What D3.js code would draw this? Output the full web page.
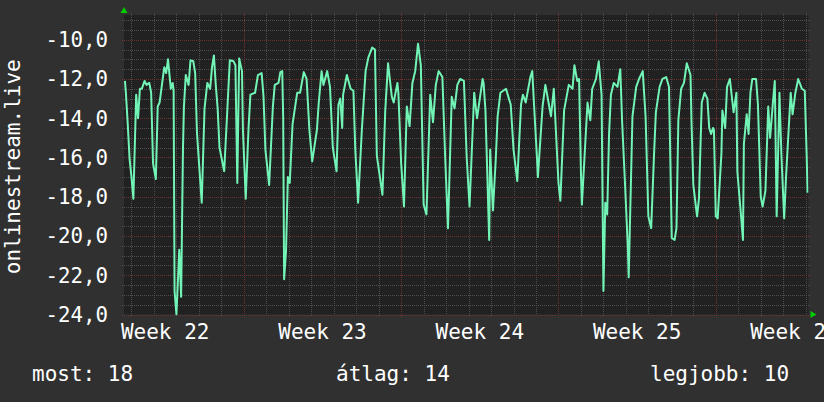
<!DOCTYPE html>
<html>
<head>
<meta charset="utf-8">
<script src="https://cdn.jsdelivr.net/npm/d3@7"></script>
<style>
  html, body { margin: 0; padding: 0; background: #303030; }
  svg { display: block; }
  text { font-family: "DejaVu Sans Mono", monospace; fill: #ffffff; }
</style>
</head>
<body>
<div id="chart"></div>
<script>
// Hours since Wed 2023-05-31 00:00 and the value read at that time
const hours = [
  -7, -6, -4, -2, 0, 2, 5, 7, 9, 11, 14, 16, 19, 21, 23, 26, 28, 30, 35, 37, 39, 42, 44, 45, 46, 48,
  51, 53, 55, 56, 58, 61, 63, 66, 68, 70, 75, 78, 81, 84, 86, 88, 90, 92, 94, 99, 102, 105, 109, 111,
  113, 115, 118, 119, 122, 125, 127, 132, 135, 139, 141, 143, 147, 151, 153, 157, 159, 161, 162, 163,
  165, 167, 169, 172, 177, 180, 184, 187, 190, 193, 198, 200, 203, 205, 209, 212, 215, 219, 221, 223,
  225, 226, 230, 234, 237, 239, 242, 246, 250, 253, 257, 260, 262, 268, 271, 274, 278, 280, 284, 285,
  288, 291, 294, 297, 300, 303, 306, 309, 312, 315, 319, 322, 325, 328, 332, 335, 338, 342, 345, 348,
  351, 355, 358, 361, 366, 369, 375, 376, 378, 382, 383, 386, 389, 391, 394, 400, 403, 405, 408, 412,
  416, 418, 421, 426, 428, 430, 433, 434, 439, 442, 448, 451, 453, 456, 458, 462, 467, 471, 473, 476,
  478, 480, 481, 487, 490, 492, 496, 499, 502, 504, 506, 508, 510, 512, 515, 519, 522, 524, 527, 530,
  531, 535, 539, 542, 546, 549, 552, 555, 558, 560, 564, 567, 571, 574, 577, 580, 582, 584, 587, 590,
  593, 597, 598, 600, 604, 606, 609, 612, 615, 617, 619, 621, 622, 624, 626, 630, 631, 634, 636, 639,
  643, 646, 647, 651, 653, 654, 657, 659, 661, 663, 667, 669, 672, 674, 677, 680, 682, 685, 687, 689,
  692, 694, 697, 699, 702, 704, 706, 709, 712, 716, 719, 721, 722
];
const values = [
  -12.1, -12.7, -14.3, -16.1, -17.0, -18.1, -12.8, -14.0, -12.5, -12.5, -12.1, -12.3, -12.2, -12.7, -16.3, -17.1, -13.4, -13.2, -11.4, -11.7, -11.0, -12.5, -12.2, -12.6, -22.8, -24.0,
  -20.7, -23.1, -15.5, -13.4, -11.8, -12.3, -11.05, -11.1, -11.7, -14.8, -18.3, -13.5, -12.2, -12.5, -11.4, -10.8, -12.3, -13.5, -15.5, -16.7, -13.9, -11.05, -11.1, -11.3,
  -17.3, -10.95, -11.6, -14.6, -18.1, -14.5, -12.8, -12.7, -11.8, -11.7, -12.9, -15.6, -17.4, -13.4, -12.3, -12.2, -11.65, -11.6, -14.0, -22.2,
  -20.8, -17.0, -17.3, -14.3, -12.7, -12.7, -11.65, -12.0, -14.6, -16.2, -14.6, -13.2, -11.6, -12.3, -11.6, -12.4, -15.5, -16.7, -13.3, -13.0,
  -14.5, -12.8, -11.8, -12.5, -12.6, -15.6, -18.3, -14.6, -11.6, -10.9, -10.4, -10.5, -15.9, -17.9, -13.6, -11.2, -12.9, -13.2, -12.2, -12.7,
  -16.3, -18.5, -13.4, -14.4, -12.2, -11.6, -10.2, -11.3, -18.4, -18.9, -12.8, -14.2, -12.3, -11.6, -11.9, -16.0, -19.6, -12.9, -13.5, -12.3,
  -12.0, -12.1, -16.0, -18.5, -12.7, -14.0, -12.0, -12.2, -13.6, -20.2, -15.6, -18.7, -16.1, -13.9, -12.7, -12.5, -13.0, -13.3, -15.6, -17.2,
  -13.3, -12.8, -13.2, -11.9, -11.6, -13.4, -16.0, -17.0, -13.4, -12.3, -13.9, -12.5, -14.4, -17.3, -18.2, -13.6, -12.3, -12.5, -11.3, -12.1,
  -12.0, -16.8, -18.4, -13.2, -14.1, -12.5, -12.0, -11.1, -12.8, -22.8, -18.3, -18.9, -14.8, -12.8, -12.2, -12.4, -11.5, -14.2, -17.3, -20.5,
  -22.1, -13.9, -12.4, -12.0, -11.6, -13.9, -19.0, -19.6, -15.9, -13.7, -12.4, -12.0, -11.9, -12.4, -20.1, -20.2, -19.6, -14.1, -12.5, -12.2,
  -11.2, -11.8, -14.1, -17.4, -19.0, -18.1, -13.2, -12.7, -13.0, -14.5, -14.8, -14.5, -14.6, -19.0, -19.1, -15.8, -13.6, -14.5, -12.4, -12.0,
  -13.7, -12.7, -16.7, -19.0, -20.2, -15.3, -13.8, -14.8, -12.7, -12.0, -12.0, -13.3, -18.0, -18.5, -17.7, -13.4, -15.0, -13.2, -12.1, -19.0,
  -12.7, -15.8, -19.1, -17.0, -14.4, -12.7, -13.8, -12.7, -12.0, -12.5, -12.6, -15.8, -17.8
];

const yTicks = [-24, -22, -20, -18, -16, -14, -12, -10];
const axisTitle = 'onlinestream.live';
const legendNames = ['most', 'átlag', 'legjobb'];
const legendValues = [18, 14, 10];

const W = 824, H = 402;
const plot = {left: 124, right: 808.5, top: 15, bottom: 314.5};
const t0 = new Date(2023, 4, 31, 0, 0);

const x = d3.scaleTime()
  .domain([d3.timeHour.offset(t0, -7.7), d3.timeHour.offset(t0, 30.16 * 24)])
  .range([plot.left, plot.right]);
const y = d3.scaleLinear()
  .domain([-24, -8.74])
  .range([plot.bottom, plot.top]);

const svg = d3.select('#chart').append('svg')
  .attr('width', W).attr('height', H);

svg.append('rect').attr('width', W).attr('height', H).attr('fill', '#303030');
svg.append('rect')
  .attr('x', plot.left).attr('y', plot.top)
  .attr('width', plot.right - plot.left).attr('height', plot.bottom - plot.top)
  .attr('fill', '#212121');

const grid = svg.append('g');
const minorColor = '#4e4e4e', majorColor = '#6e3434';

// horizontal grid, minor every 0.5, major every 2
const yMinor = d3.range(-24, -8.74, 0.5).filter(v => v % 2 !== 0);
grid.selectAll('.hmin').data(yMinor).join('line')
  .attr('x1', plot.left - 2).attr('x2', plot.right + 2)
  .attr('y1', d => Math.round(y(d)) + 0.5).attr('y2', d => Math.round(y(d)) + 0.5)
  .attr('stroke', minorColor).attr('stroke-dasharray', '1,1');

// vertical grid, minor each day, major each Monday
const days = d3.timeDay.range(x.domain()[0], x.domain()[1]);
const mondays = d3.timeMonday.range(x.domain()[0], x.domain()[1]);
grid.selectAll('.vmin').data(days.filter(d => d.getDay() !== 1)).join('line')
  .attr('x1', d => Math.round(x(d)) + 0.5).attr('x2', d => Math.round(x(d)) + 0.5)
  .attr('y1', plot.top - 2).attr('y2', plot.bottom + 2)
  .attr('stroke', minorColor).attr('stroke-dasharray', '1,1');

grid.selectAll('.hmaj').data(yTicks).join('line')
  .attr('x1', plot.left - 2).attr('x2', plot.right + 2)
  .attr('y1', d => Math.round(y(d)) + 0.5).attr('y2', d => Math.round(y(d)) + 0.5)
  .attr('stroke', majorColor).attr('stroke-dasharray', '1,1');
grid.selectAll('.vmaj').data(mondays).join('line')
  .attr('x1', d => Math.round(x(d)) + 0.5).attr('x2', d => Math.round(x(d)) + 0.5)
  .attr('y1', plot.top - 2).attr('y2', plot.bottom + 3)
  .attr('stroke', majorColor).attr('stroke-dasharray', '1,1');

// the series
svg.append('clipPath').attr('id', 'clip').append('rect')
  .attr('x', plot.left).attr('y', plot.top)
  .attr('width', plot.right - plot.left).attr('height', plot.bottom - plot.top + 1);

const points = hours.map((h, i) => ({t: d3.timeHour.offset(t0, h), v: values[i]}));
const line = d3.line().x(d => x(d.t)).y(d => y(d.v));
svg.append('path').datum(points)
  .attr('clip-path', 'url(#clip)')
  .attr('d', line)
  .attr('fill', 'none')
  .attr('stroke', '#72f4b6')
  .attr('stroke-width', 2)
  .attr('stroke-linejoin', 'round');

// y labels
const fmt = v => d3.format('.1f')(v).replace('.', ',').replace('−', '-');
svg.append('g').selectAll('text').data(yTicks).join('text')
  .attr('x', 108).attr('y', d => y(d))
  .attr('dy', '0.36em')
  .attr('text-anchor', 'end')
  .attr('font-size', 20.8)
  .text(fmt);

// x labels, centered in the middle of each week
const weekFmt = d3.timeFormat('Week %V');
const weeks = d3.timeMonday.range(d3.timeMonday.floor(x.domain()[0]), x.domain()[1]);
svg.append('g').selectAll('text').data(weeks).join('text')
  .attr('x', d => x(d3.timeHour.offset(d, 84)))
  .attr('y', 339)
  .attr('text-anchor', 'middle')
  .attr('font-size', 21)
  .text(weekFmt);

// axis title
svg.append('text')
  .attr('transform', `translate(20,${(plot.top + plot.bottom) / 2 + 2}) rotate(-90)`)
  .attr('text-anchor', 'middle')
  .attr('font-size', 21)
  .text(axisTitle);

// arrows
svg.append('path')
  .attr('d', `M${plot.left - 3.5},13 L${plot.left + 3.5},13 L${plot.left},7 Z`)
  .attr('fill', '#00cc00');
svg.append('path')
  .attr('d', `M${plot.right + 2},${plot.bottom - 3.5} L${plot.right + 2},${plot.bottom + 3.5} L${plot.right + 8},${plot.bottom} Z`)
  .attr('fill', '#00cc00');

// legend
const legendX = [32, 336, 650];
svg.append('g').selectAll('text').data(legendNames).join('text')
  .attr('x', (d, i) => legendX[i])
  .attr('y', 381)
  .attr('font-size', 21)
  .text((d, i) => `${d}: ${legendValues[i]}`);
</script>
</body>
</html>
